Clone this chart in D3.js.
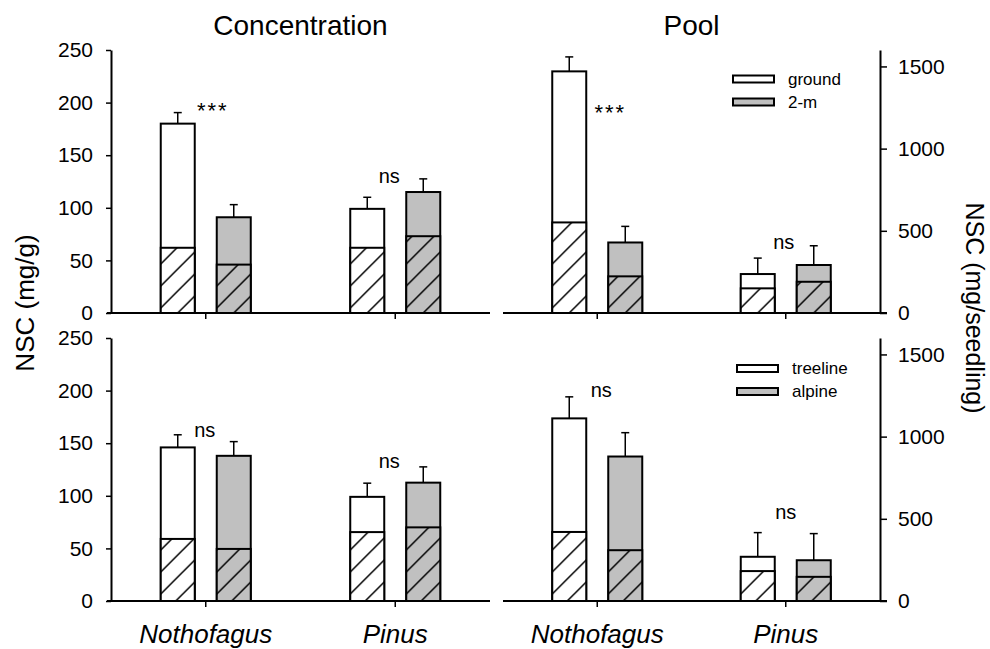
<!DOCTYPE html>
<html>
<head>
<meta charset="utf-8">
<script src="https://cdn.jsdelivr.net/npm/d3@7"></script>
<style>
  body { margin: 0; background: #fff; }
  text { font-family: "Liberation Sans", Arial, sans-serif; fill: #000; }
</style>
</head>
<body>
<div id="chart"></div>
<script>
// categories
const genera = ['Nothofagus', 'Pinus'];
const sitesTop = ['ground', '2-m'];
const sitesBottom = ['treeline', 'alpine'];

// values: rows = site, cols = genus
// Concentration (mg/g), ground vs 2-m
const concTopTotal = [[180, 99], [91, 115]];
const concTopHatch = [[62, 62], [46, 73]];
const concTopErr = [[10.5, 11], [12, 12.5]];
// Pool (mg/seedling), ground vs 2-m
const poolTopTotal = [[1470, 237], [429, 292]];
const poolTopHatch = [[551, 150], [223, 190]];
const poolTopErr = [[88, 97], [98, 117]];
// Concentration, treeline vs alpine
const concBotTotal = [[146, 99], [138, 112.5]];
const concBotHatch = [[59, 65.5], [49.5, 70]];
const concBotErr = [[12, 13], [13.5, 15]];
// Pool, treeline vs alpine
const poolBotTotal = [[1111, 269], [879, 248]];
const poolBotHatch = [[420, 182], [309, 147]];
const poolBotErr = [[131, 147], [145, 162]];

// significance labels (per genus) and the level they sit at, in data units
const concTopSig = ['***', 'ns'];
const concTopSigAt = [185, 124];
const poolTopSig = ['***', 'ns'];
const poolTopSigAt = [1174, 389];
const concBotSig = ['ns', 'ns'];
const concBotSigAt = [156, 126];
const poolBotSig = ['ns', 'ns'];
const poolBotSigAt = [1241, 499];

// tick labels
const concTicks = [0, 50, 100, 150, 200, 250];
const poolTicks = [0, 500, 1000, 1500];

const width = 990;
const height = 649;
const grey = '#c0c0c0';

const svg = d3.select('#chart')
    .append('svg')
    .attr('width', width)
    .attr('height', height);

// hatch patterns
const defs = svg.append('defs');
function addHatch(id, bg) {
    const s = 22;
    const p = defs.append('pattern')
        .attr('id', id)
        .attr('patternUnits', 'userSpaceOnUse')
        .attr('width', s)
        .attr('height', s);
    p.append('rect').attr('width', s).attr('height', s).attr('fill', bg);
    p.append('path')
        .attr('d', `M0,${s}L${s},0M${-s / 2},${s / 2}L${s / 2},${-s / 2}M${s / 2},${s * 1.5}L${s * 1.5},${s / 2}`)
        .attr('stroke', '#000')
        .attr('stroke-width', 1.5);
}
addHatch('hatch-0', '#fff');
addHatch('hatch-1', grey);
const fills = ['#fff', grey];

// layout
const cols = [
    { x0: 111, x1: 490, lineX: [107, 490], side: 'left', domain: [0, 250], ticks: concTicks, title: 'Concentration' },
    { x0: 503, x1: 880, lineX: [503, 887], side: 'right', domain: [0, 1600], ticks: poolTicks, title: 'Pool' }
];
const rows = [
    { y0: 313, y1: 50, sites: sitesTop, legendX: 733, legendY: 79 },
    { y0: 601, y1: 338, sites: sitesBottom, legendX: 737, legendY: 368.5 }
];

const panels = [
    { r: 0, c: 0, total: concTopTotal, hatch: concTopHatch, err: concTopErr, sig: concTopSig, sigAt: concTopSigAt, sigDx: [7, -6] },
    { r: 0, c: 1, total: poolTopTotal, hatch: poolTopHatch, err: poolTopErr, sig: poolTopSig, sigAt: poolTopSigAt, sigDx: [13, -2] },
    { r: 1, c: 0, total: concBotTotal, hatch: concBotHatch, err: concBotErr, sig: concBotSig, sigAt: concBotSigAt, sigDx: [-1, -6] },
    { r: 1, c: 1, total: poolBotTotal, hatch: poolBotHatch, err: poolBotErr, sig: poolBotSig, sigAt: poolBotSigAt, sigDx: [4, 0] }
];

panels.forEach(p => {
    const col = cols[p.c];
    const row = rows[p.r];
    const g = svg.append('g');

    const x = d3.scaleBand().domain(genera).range([col.x0, col.x1]);
    const xs = d3.scaleBand().domain(row.sites).range([-45, 45]).paddingInner(0.393);
    const y = d3.scaleLinear().domain(col.domain).range([row.y0, row.y1]);
    const cx = gen => x(gen) + x.bandwidth() / 2;

    // bars
    const bars = [];
    row.sites.forEach((site, si) => {
        genera.forEach((gen, gi) => {
            bars.push({ si, gi, gen, total: p.total[si][gi], hatch: p.hatch[si][gi], err: p.err[si][gi] });
        });
    });

    const bar = g.selectAll('g.bar')
        .data(bars)
        .join('g')
        .attr('class', 'bar')
        .attr('transform', d => `translate(${cx(d.gen) + xs(row.sites[d.si])},0)`);

    // error bars
    bar.append('line')
        .attr('x1', xs.bandwidth() / 2).attr('x2', xs.bandwidth() / 2)
        .attr('y1', d => y(d.total)).attr('y2', d => y(d.total + d.err))
        .attr('stroke', '#000').attr('stroke-width', 1.5);
    bar.append('line')
        .attr('x1', xs.bandwidth() / 2 - 4).attr('x2', xs.bandwidth() / 2 + 4)
        .attr('y1', d => y(d.total + d.err)).attr('y2', d => y(d.total + d.err))
        .attr('stroke', '#000').attr('stroke-width', 1.5);

    bar.append('rect')
        .attr('y', d => y(d.total))
        .attr('width', xs.bandwidth())
        .attr('height', d => y(0) - y(d.total))
        .attr('fill', d => fills[d.si])
        .attr('stroke', '#000').attr('stroke-width', 2);

    bar.append('rect')
        .attr('y', d => y(d.hatch))
        .attr('width', xs.bandwidth())
        .attr('height', d => y(0) - y(d.hatch))
        .attr('fill', d => `url(#hatch-${d.si})`)
        .attr('stroke', '#000').attr('stroke-width', 2);

    // x axis line + ticks
    g.append('line')
        .attr('x1', col.lineX[0]).attr('x2', col.lineX[1])
        .attr('y1', row.y0).attr('y2', row.y0)
        .attr('stroke', '#000').attr('stroke-width', 2);
    g.selectAll('line.xtick')
        .data(genera)
        .join('line')
        .attr('class', 'xtick')
        .attr('x1', cx).attr('x2', cx)
        .attr('y1', row.y0).attr('y2', row.y0 + 6)
        .attr('stroke', '#000').attr('stroke-width', 1.5);

    // y axis
    const axis = (col.side === 'left' ? d3.axisLeft(y) : d3.axisRight(y))
        .tickValues(col.ticks)
        .tickFormat(d3.format('d'))
        .tickSizeInner(col.side === 'left' ? 5 : 7)
        .tickSizeOuter(0)
        .tickPadding(col.side === 'left' ? 13 : 11);
    const yAxis = g.append('g')
        .attr('transform', `translate(${col.side === 'left' ? col.x0 : col.x1},0)`)
        .call(axis);
    yAxis.select('.domain').attr('stroke-width', 2);
    yAxis.selectAll('.tick line').attr('stroke-width', 1.5);
    yAxis.selectAll('.tick text')
        .attr('font-size', 21)
        .attr('font-family', '"Liberation Sans", Arial, sans-serif');

    // significance labels
    g.selectAll('text.sig')
        .data(genera)
        .join('text')
        .attr('class', 'sig')
        .attr('x', (gen, i) => cx(gen) + p.sigDx[i])
        .attr('y', (gen, i) => y(p.sigAt[i]))
        .attr('text-anchor', 'middle')
        .attr('font-size', (gen, i) => p.sig[i] === '***' ? 22 : 20)
        .attr('letter-spacing', (gen, i) => p.sig[i] === '***' ? 2 : 0)
        .text((gen, i) => p.sig[i]);

    // legend in the right column
    if (p.c === 1) {
        const leg = g.selectAll('g.leg')
            .data(row.sites)
            .join('g')
            .attr('class', 'leg')
            .attr('transform', (d, i) => `translate(${row.legendX},${row.legendY + i * 23})`);
        leg.append('rect')
            .attr('x', 0).attr('y', -3.5)
            .attr('width', 41).attr('height', 7)
            .attr('fill', (d, i) => fills[i])
            .attr('stroke', '#000').attr('stroke-width', 2);
        leg.append('text')
            .attr('x', 55).attr('y', 0)
            .attr('dy', '0.35em')
            .attr('font-size', 17)
            .text(d => d);
    }

    // genus labels under the bottom row
    if (p.r === 1) {
        g.selectAll('text.genus')
            .data(genera)
            .join('text')
            .attr('class', 'genus')
            .attr('x', cx)
            .attr('y', 643)
            .attr('text-anchor', 'middle')
            .attr('font-size', 26)
            .attr('font-style', 'italic')
            .text(d => d);
    }

    // column titles
    if (p.r === 0) {
        g.append('text')
            .attr('x', (col.x0 + col.x1) / 2)
            .attr('y', 35)
            .attr('text-anchor', 'middle')
            .attr('font-size', 28)
            .text(col.title);
    }
});

// axis titles
svg.append('text')
    .attr('transform', 'translate(34,303) rotate(-90)')
    .attr('text-anchor', 'middle')
    .attr('font-size', 26)
    .text('NSC (mg/g)');

svg.append('text')
    .attr('transform', 'translate(966,308) rotate(90)')
    .attr('text-anchor', 'middle')
    .attr('font-size', 25)
    .text('NSC (mg/seedling)');
</script>
</body>
</html>
